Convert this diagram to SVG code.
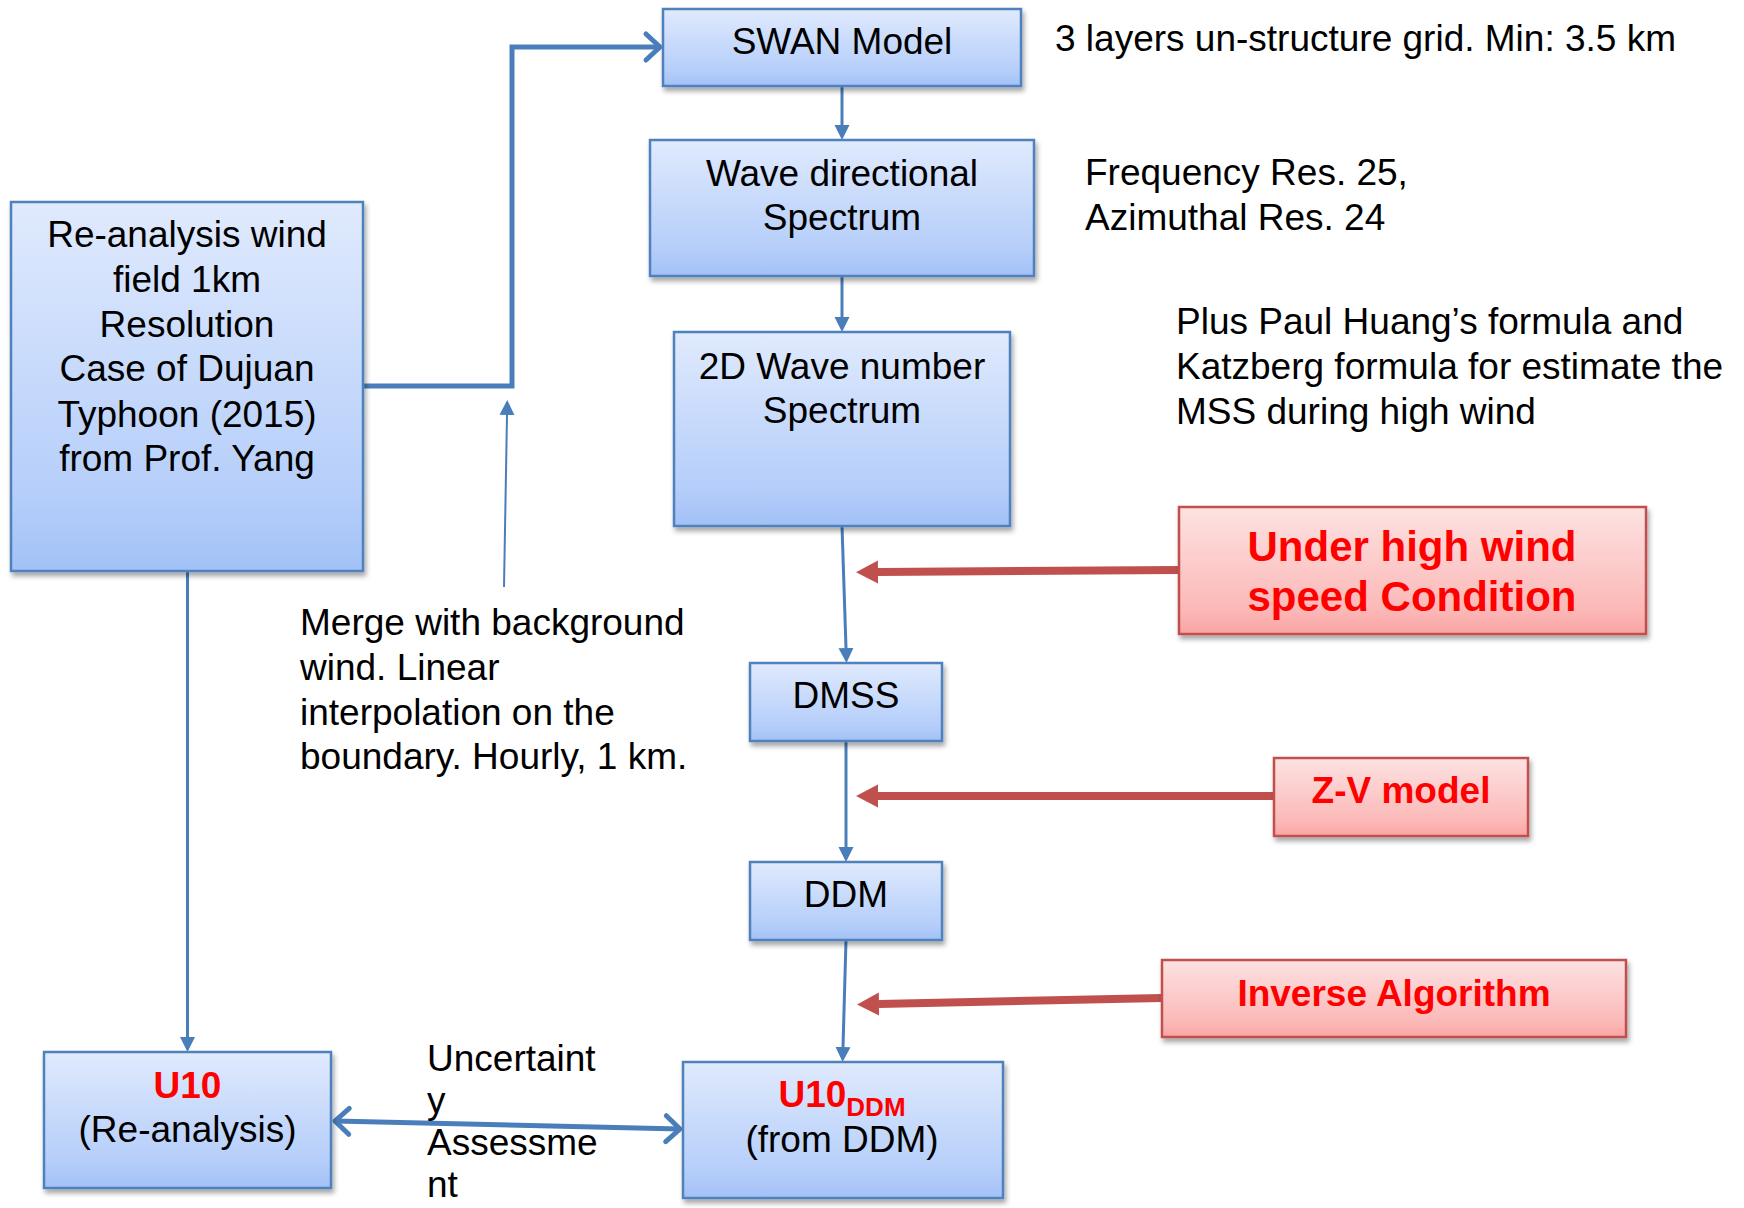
<svg xmlns="http://www.w3.org/2000/svg" width="1744" height="1208" viewBox="0 0 1744 1208">
<defs>
<linearGradient id="gBlue" x1="0" y1="0" x2="0" y2="1">
<stop offset="0" stop-color="#e0eafd"/>
<stop offset="0.8" stop-color="#b5cefa"/>
<stop offset="1" stop-color="#a3c1f7"/>
</linearGradient>
<linearGradient id="gRed" x1="0" y1="0" x2="0" y2="1">
<stop offset="0" stop-color="#fde2e2"/>
<stop offset="0.8" stop-color="#fbb9b8"/>
<stop offset="1" stop-color="#f9a5a4"/>
</linearGradient>
<filter id="sh" x="-10%" y="-10%" width="130%" height="140%">
<feDropShadow dx="2" dy="4" stdDeviation="2.5" flood-color="#000" flood-opacity="0.35"/>
</filter>
<marker id="bTri" viewBox="0 -9 16 18" refX="0" refY="0" markerWidth="16" markerHeight="18" markerUnits="userSpaceOnUse" orient="auto">
<path d="M0,-7.5 L15,0 L0,7.5 z" fill="#4a7ebb"/>
</marker>
<marker id="bOpen" viewBox="-20 -20 40 40" refX="0" refY="0" markerWidth="40" markerHeight="40" markerUnits="userSpaceOnUse" orient="auto-start-reverse">
<path d="M-14,-13 L0,0 L-14,13" fill="none" stroke="#4a7ebb" stroke-width="5" stroke-linecap="round" stroke-linejoin="round"/>
</marker>
<marker id="rTri" viewBox="0 -12 24 24" refX="0" refY="0" markerWidth="24" markerHeight="24" markerUnits="userSpaceOnUse" orient="auto">
<path d="M0,-11.5 L22,0 L0,11.5 z" fill="#c0504d"/>
</marker>
</defs>
<style>
.bb{fill:url(#gBlue);stroke:#4f81bd;stroke-width:2.5;filter:url(#sh)}
.rb{fill:url(#gRed);stroke:#c0504d;stroke-width:2.5;filter:url(#sh)}
text{font-family:"Liberation Sans",Arial,sans-serif;font-size:37px;fill:#000}
.c{text-anchor:middle}
.red{fill:#ff0000;font-weight:bold}
.big{font-size:42px}
.sub{font-size:26px}
.bl{stroke:#4a7ebb;fill:none}
.rl{stroke:#c0504d;stroke-width:8;fill:none}
</style>
<rect width="1744" height="1208" fill="#fff"/>

<g id="connectors">
<path class="bl" stroke-width="5" d="M363,386 H512 V47 H660" marker-end="url(#bOpen)"/>
<path class="bl" stroke-width="2" d="M504,587 L507,415" marker-end="url(#bTri)"/>
<path class="bl" stroke-width="3" d="M842,86 V125" marker-end="url(#bTri)"/>
<path class="bl" stroke-width="3" d="M842,276 V317" marker-end="url(#bTri)"/>
<path class="bl" stroke-width="3" d="M842,526 L846,648" marker-end="url(#bTri)"/>
<path class="bl" stroke-width="3" d="M846,741 V847" marker-end="url(#bTri)"/>
<path class="bl" stroke-width="3" d="M846,940 L843,1047" marker-end="url(#bTri)"/>
<path class="bl" stroke-width="3" d="M187.5,571 V1037" marker-end="url(#bTri)"/>
<path class="bl" stroke-width="5" d="M335,1121 L680,1129" marker-start="url(#bOpen)" marker-end="url(#bOpen)"/>
<path class="rl" d="M1179,570 L878,572" marker-end="url(#rTri)"/>
<path class="rl" d="M1274,796 L878,796" marker-end="url(#rTri)"/>
<path class="rl" d="M1162,998 L879,1004" marker-end="url(#rTri)"/>
</g>

<g id="swan">
<rect class="bb" x="663" y="9" width="358" height="77"/>
<text class="c" x="842" y="54">SWAN Model</text>
</g>
<g id="wave-directional">
<rect class="bb" x="650" y="140" width="384" height="136"/>
<text class="c" x="842" y="186">Wave directional</text>
<text class="c" x="842" y="230">Spectrum</text>
</g>
<g id="wavenumber">
<rect class="bb" x="674" y="332" width="336" height="194"/>
<text class="c" x="842" y="379">2D Wave number</text>
<text class="c" x="842" y="423">Spectrum</text>
</g>
<g id="reanalysis">
<rect class="bb" x="11" y="202" width="352" height="369"/>
<text class="c" x="187" y="247">Re-analysis wind</text>
<text class="c" x="187" y="292">field 1km</text>
<text class="c" x="187" y="337">Resolution</text>
<text class="c" x="187" y="381">Case of Dujuan</text>
<text class="c" x="187" y="427">Typhoon (2015)</text>
<text class="c" x="187" y="471">from Prof. Yang</text>
</g>
<g id="dmss">
<rect class="bb" x="750" y="663" width="192" height="78"/>
<text class="c" x="846" y="708">DMSS</text>
</g>
<g id="ddm">
<rect class="bb" x="750" y="862" width="192" height="78"/>
<text class="c" x="846" y="907">DDM</text>
</g>
<g id="u10ddm">
<rect class="bb" x="683" y="1062" width="320" height="136"/>
<text class="c red" x="842" y="1107">U10<tspan class="sub" dy="9">DDM</tspan></text>
<text class="c" x="842" y="1152">(from DDM)</text>
</g>
<g id="u10">
<rect class="bb" x="44" y="1052" width="287" height="136"/>
<text class="c red" x="187.5" y="1098">U10</text>
<text class="c" x="187.5" y="1142">(Re-analysis)</text>
</g>
<g id="highwind">
<rect class="rb" x="1179" y="507" width="467" height="127"/>
<text class="c red big" x="1412" y="561">Under high wind</text>
<text class="c red big" x="1412" y="611">speed Condition</text>
</g>
<g id="zv">
<rect class="rb" x="1274" y="758" width="254" height="78"/>
<text class="c red" x="1401" y="803">Z-V model</text>
</g>
<g id="inverse">
<rect class="rb" x="1162" y="960" width="464" height="77"/>
<text class="c red" x="1394" y="1006">Inverse Algorithm</text>
</g>

<g id="notes">
<text x="1055" y="51">3 layers un-structure grid. Min: 3.5 km</text>
<text x="1085" y="185">Frequency Res. 25,</text>
<text x="1085" y="230">Azimuthal Res. 24</text>
<text x="1176" y="334">Plus Paul Huang’s formula and</text>
<text x="1176" y="379">Katzberg formula for estimate the</text>
<text x="1176" y="424">MSS during high wind</text>
<text x="300" y="635">Merge with background</text>
<text x="300" y="680">wind. Linear</text>
<text x="300" y="725">interpolation on the</text>
<text x="300" y="769">boundary. Hourly, 1 km.</text>
<text x="427" y="1071">Uncertaint</text>
<text x="427" y="1113">y</text>
<text x="427" y="1155">Assessme</text>
<text x="427" y="1197">nt</text>
</g>
</svg>
